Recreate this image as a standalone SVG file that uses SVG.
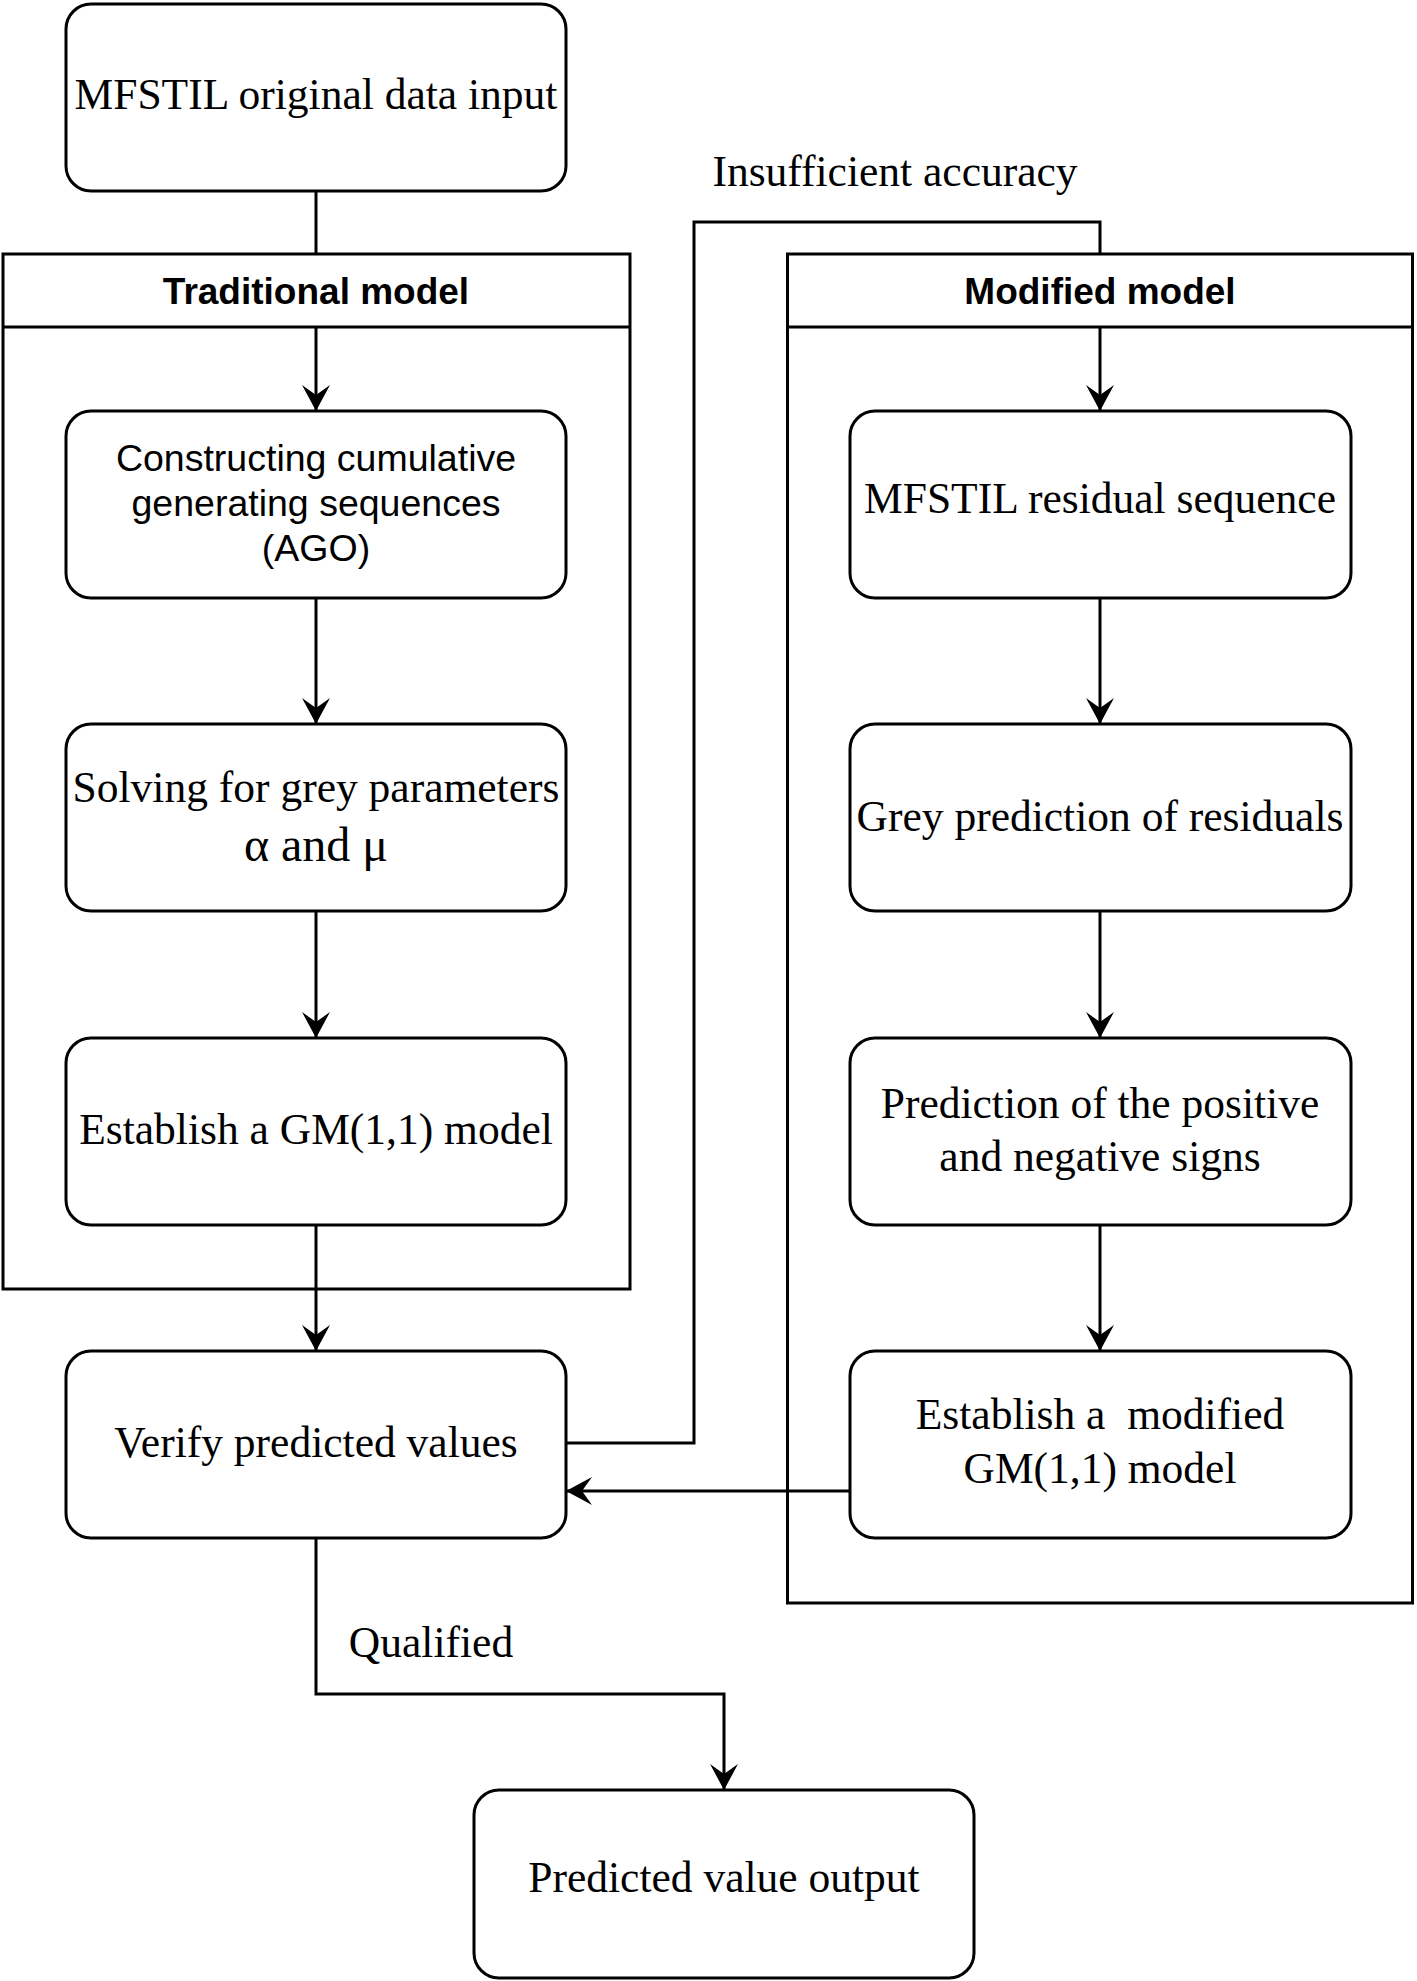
<svg xmlns="http://www.w3.org/2000/svg" width="1417" height="1981" viewBox="0 0 1417 1981">
<style>
.box{fill:#fff;stroke:#000;stroke-width:3}
.lane{fill:#fff;stroke:#000;stroke-width:3}
.edge{fill:none;stroke:#000;stroke-width:3}
.serif{font-family:"Liberation Serif","Times New Roman",serif;font-size:43.5px;fill:#000;text-anchor:middle}
.sans{font-family:"Liberation Sans",Arial,sans-serif;font-size:37.5px;fill:#000;text-anchor:middle}
.head{font-family:"Liberation Sans",Arial,sans-serif;font-size:37px;font-weight:bold;fill:#000;text-anchor:middle}
</style>
<defs>
<marker id="arr" markerUnits="userSpaceOnUse" markerWidth="28" markerHeight="28" refX="26" refY="14" orient="auto" viewBox="0 0 28 28">
<path d="M0,0 L26,14 L0,28 L10,14 Z" fill="#000"/>
</marker>
</defs>
<rect width="1417" height="1981" fill="#fff"/>

<g id="lane-traditional">
<rect class="lane" x="3" y="254" width="627" height="1035"/>
<line class="edge" x1="3" y1="327" x2="630" y2="327"/>
<text class="head" x="316" y="304">Traditional model</text>
</g>

<g id="lane-modified">
<rect class="lane" x="787.5" y="254" width="625" height="1349"/>
<line class="edge" x1="787.5" y1="327" x2="1412.5" y2="327"/>
<text class="head" x="1100" y="304">Modified model</text>
</g>

<g id="connectors">
<path class="edge" d="M316,191 V254"/>
<path class="edge" d="M316,327 V411" marker-end="url(#arr)"/>
<path class="edge" d="M316,598 V724" marker-end="url(#arr)"/>
<path class="edge" d="M316,911 V1038" marker-end="url(#arr)"/>
<path class="edge" d="M316,1225 V1351" marker-end="url(#arr)"/>
<path class="edge" d="M566,1443 H694 V222 H1100 V254"/>
<path class="edge" d="M1100,327 V411" marker-end="url(#arr)"/>
<path class="edge" d="M1100,598 V724" marker-end="url(#arr)"/>
<path class="edge" d="M1100,911 V1038" marker-end="url(#arr)"/>
<path class="edge" d="M1100,1225 V1351" marker-end="url(#arr)"/>
<path class="edge" d="M850,1491 H566" marker-end="url(#arr)"/>
<path class="edge" d="M316,1538 V1694 H724 V1790" marker-end="url(#arr)"/>
<text class="serif" x="895" y="186">Insufficient accuracy</text>
<text class="serif" x="431" y="1657">Qualified</text>
</g>

<g id="n-input">
<rect class="box" x="66" y="4" width="500" height="187" rx="25"/>
<text class="serif" x="316" y="109">MFSTIL original data input</text>
</g>

<g id="n-ago">
<rect class="box" x="66" y="411" width="500" height="187" rx="25"/>
<text class="sans" x="316" y="471">Constructing cumulative</text>
<text class="sans" x="316" y="516">generating sequences</text>
<text class="sans" x="316" y="561">(AGO)</text>
</g>

<g id="n-params">
<rect class="box" x="66" y="724" width="500" height="187" rx="25"/>
<text class="serif" x="316" y="802">Solving for grey parameters</text>
<text class="serif" x="316" y="861" style="font-size:48px">α and μ</text>
</g>

<g id="n-gm">
<rect class="box" x="66" y="1038" width="500" height="187" rx="25"/>
<text class="serif" x="316" y="1144">Establish a GM(1,1) model</text>
</g>

<g id="n-verify">
<rect class="box" x="66" y="1351" width="500" height="187" rx="25"/>
<text class="serif" x="316" y="1457">Verify predicted values</text>
</g>

<g id="n-residual">
<rect class="box" x="850" y="411" width="501" height="187" rx="25"/>
<text class="serif" x="1100" y="513">MFSTIL residual sequence</text>
</g>

<g id="n-greypred">
<rect class="box" x="850" y="724" width="501" height="187" rx="25"/>
<text class="serif" x="1100" y="831">Grey prediction of residuals</text>
</g>

<g id="n-signs">
<rect class="box" x="850" y="1038" width="501" height="187" rx="25"/>
<text class="serif" x="1100" y="1118">Prediction of the positive</text>
<text class="serif" x="1100" y="1171">and negative signs</text>
</g>

<g id="n-modified">
<rect class="box" x="850" y="1351" width="501" height="187" rx="25"/>
<text class="serif" x="1100" y="1429" xml:space="preserve">Establish a  modified</text>
<text class="serif" x="1100" y="1483">GM(1,1) model</text>
</g>

<g id="n-output">
<rect class="box" x="474" y="1790" width="500" height="188" rx="25"/>
<text class="serif" x="724" y="1892">Predicted value output</text>
</g>
</svg>
